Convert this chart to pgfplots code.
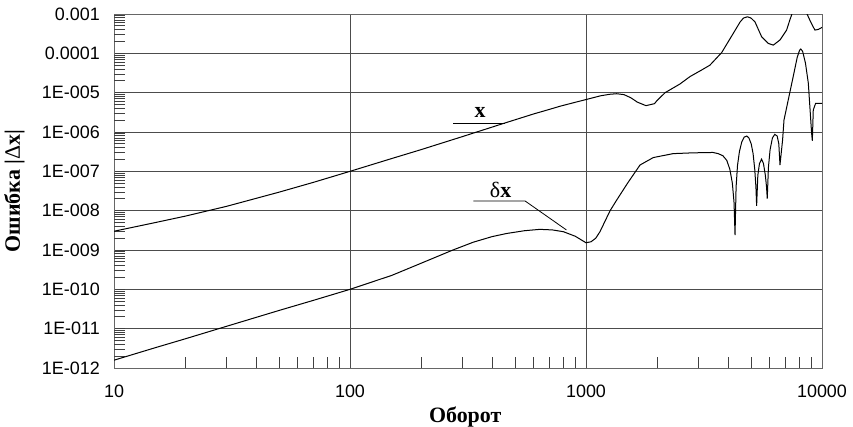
\documentclass[border=0pt]{standalone}
\usepackage{fontspec}
\setmainfont{Liberation Serif}
\newfontfamily\arialfont{Liberation Sans}
\usepackage{pgfplots}
\pgfplotsset{compat=1.18}

\begin{document}
\begin{tikzpicture}
\useasboundingbox (0,0) rectangle (853bp,427bp);
\begin{axis}[
  at={(114bp,59bp)}, anchor=south west,
  scale only axis, width=708bp, height=354bp,
  xmode=log, ymode=log,
  xmin=10, xmax=10000, ymin=1e-12, ymax=1e-3,
  xtick={10,100,1000,10000},
  xticklabels={10,100,1000,10000},
  ytick={1e-12,1e-11,1e-10,1e-9,1e-8,1e-7,1e-6,1e-5,1e-4,1e-3},
  yticklabels={1E-012,1E-011,1E-010,1E-009,1E-008,1E-007,1E-006,1E-005,0.0001,0.001},
  minor xtick={20,30,40,50,60,70,80,90,200,300,400,500,600,700,800,900,
               2000,3000,4000,5000,6000,7000,8000,9000},
  extra y ticks={2e-12,3e-12,4e-12,5e-12,6e-12,7e-12,8e-12,9e-12,
               2e-11,3e-11,4e-11,5e-11,6e-11,7e-11,8e-11,9e-11,
               2e-10,3e-10,4e-10,5e-10,6e-10,7e-10,8e-10,9e-10,
               2e-9,3e-9,4e-9,5e-9,6e-9,7e-9,8e-9,9e-9,
               2e-8,3e-8,4e-8,5e-8,6e-8,7e-8,8e-8,9e-8,
               2e-7,3e-7,4e-7,5e-7,6e-7,7e-7,8e-7,9e-7,
               2e-6,3e-6,4e-6,5e-6,6e-6,7e-6,8e-6,9e-6,
               2e-5,3e-5,4e-5,5e-5,6e-5,7e-5,8e-5,9e-5,
               2e-4,3e-4,4e-4,5e-4,6e-4,7e-4,8e-4,9e-4},
  extra y tick labels={},
  extra y tick style={grid=none, major tick length=11bp},
  grid=major,
  major grid style={black!70, line width=0.8bp},
  axis line style={black!60, line width=1bp},
  tick style={black!75, line width=0.8bp},
  tick pos=left, tick align=inside,
  major tick length=0pt, minor tick length=11bp,
  every tick label/.append style={font=\arialfont\fontsize{18}{20}\selectfont, inner sep=0pt},
  yticklabel style={anchor=east, xshift=-14bp},
  xticklabel style={anchor=base, yshift=-29bp},
  xlabel={Оборот},
  xlabel style={at={(axis description cs:0.496,-0.155)}, anchor=base,
                font=\bfseries\fontsize{22}{24}\selectfont},
  ylabel={Ошибка |{\mdseries Δ}x|},
  ylabel style={at={(axis description cs:-0.133,0.5)}, anchor=base, rotate=0,
                font=\bfseries\fontsize{22}{24}\selectfont},
]

% error of the coordinate x
\addplot[black, line width=1bp, mark=none] coordinates {
 (10,3.0e-9) (15,5.0e-9) (20,7.24e-9) (30,1.29e-8) (50,2.95e-8) (70,5.25e-8)
 (100,1.0e-7) (150,2.11e-7) (200,3.56e-7) (300,7.67e-7) (454,1.70e-6)
 (500,2.04e-6) (600,2.88e-6) (700,3.76e-6) (776,4.52e-6) (900,5.69e-6)
 (1000,6.68e-6) (1150,8.3e-6) (1260,9.1e-6) (1349,9.4e-6) (1450,8.9e-6)
 (1550,7.4e-6) (1650,5.75e-6) (1795,4.68e-6) (1950,5.25e-6) (2000,6.3e-6)
 (2163,1.0e-5) (2500,1.66e-5) (2760,2.57e-5) (3090,3.77e-5) (3350,5.0e-5)
 (3760,1.05e-4) (4210,3.24e-4) (4500,6.3e-4) (4650,7.9e-4) (4830,8.5e-4)
 (5000,7.9e-4) (5200,6.3e-4) (5550,2.63e-4) (5930,1.78e-4) (6220,1.62e-4)
 (6640,2.19e-4) (7080,3.9e-4) (7310,7.1e-4) (7480,1.05e-3) (8040,2.0e-3)
 (8610,1.05e-3) (8950,6.3e-4) (9330,3.9e-4) (9660,4.07e-4) (10000,4.57e-4)
};

% error of the increment delta x
\addplot[black, line width=1bp, mark=none] coordinates {
 (10,1.58e-12) (15,3.3e-12) (20,5.5e-12) (30,1.15e-11) (50,2.9e-11) (70,5.25e-11)
 (100,1.0e-10) (134,1.8e-10) (150,2.25e-10) (200,4.6e-10) (273,1.0e-9)
 (333,1.58e-9) (400,2.19e-9) (461,2.63e-9) (550,3.1e-9) (638,3.35e-9)
 (720,3.24e-9) (802,2.92e-9)
 (900,2.24e-9) (1000,1.53e-9) (1050,1.62e-9) (1100,2.0e-9) (1146,2.92e-9)
 (1265,1.0e-8) (1349,1.86e-8) (1500,5.0e-8) (1694,1.45e-7) (1928,2.24e-7)
 (2340,2.82e-7) (2820,2.95e-7) (3450,3.02e-7) (3630,2.82e-7) (3800,2.5e-7)
 (3950,1.9e-7) (4070,1.12e-7) (4170,5.0e-8) (4240,1.58e-8) (4280,2.4e-9)
 (4325,4.0e-8) (4385,1.41e-7) (4467,3.16e-7) (4571,5.6e-7) (4677,7.4e-7)
 (4800,7.9e-7) (4898,7.1e-7) (5012,5.0e-7) (5105,2.82e-7) (5188,1.12e-7)
 (5248,4.0e-8) (5284,1.32e-8)
 (5346,7.9e-8) (5433,1.58e-7) (5546,2.04e-7) (5649,1.58e-7) (5754,7.9e-8)
 (5821,4.0e-8) (5861,2.04e-8)
 (5929,1.26e-7) (6026,3.55e-7) (6166,7.1e-7) (6310,8.7e-7) (6457,7.9e-7)
 (6561,5.0e-7) (6637,1.45e-7)
 (6808,6.3e-7) (6902,2.02e-6) (7551,2.57e-5) (7852,7.9e-5) (8035,1.2e-4)
 (8128,1.29e-4) (8279,1.12e-4) (8511,5.6e-5) (8750,1.74e-5) (9036,9.3e-7)
 (9099,6.0e-7) (9183,3.63e-6) (9397,5.37e-6) (10000,5.37e-6)
};

% curve labels with leader lines
\draw[black, line width=0.8bp] (rel axis cs:0.479,0.691) -- (rel axis cs:0.552,0.691);
\node[font=\bfseries\fontsize{22}{24}\selectfont] at (rel axis cs:0.517,0.723) {x};
\draw[black, line width=0.8bp] (rel axis cs:0.5075,0.472) -- (rel axis cs:0.5805,0.472)
  -- (rel axis cs:0.639,0.390);
\node[font=\fontsize{22}{24}\selectfont] at (rel axis cs:0.546,0.503) {δ\textbf{x}};
\end{axis}
\end{tikzpicture}
\end{document}
